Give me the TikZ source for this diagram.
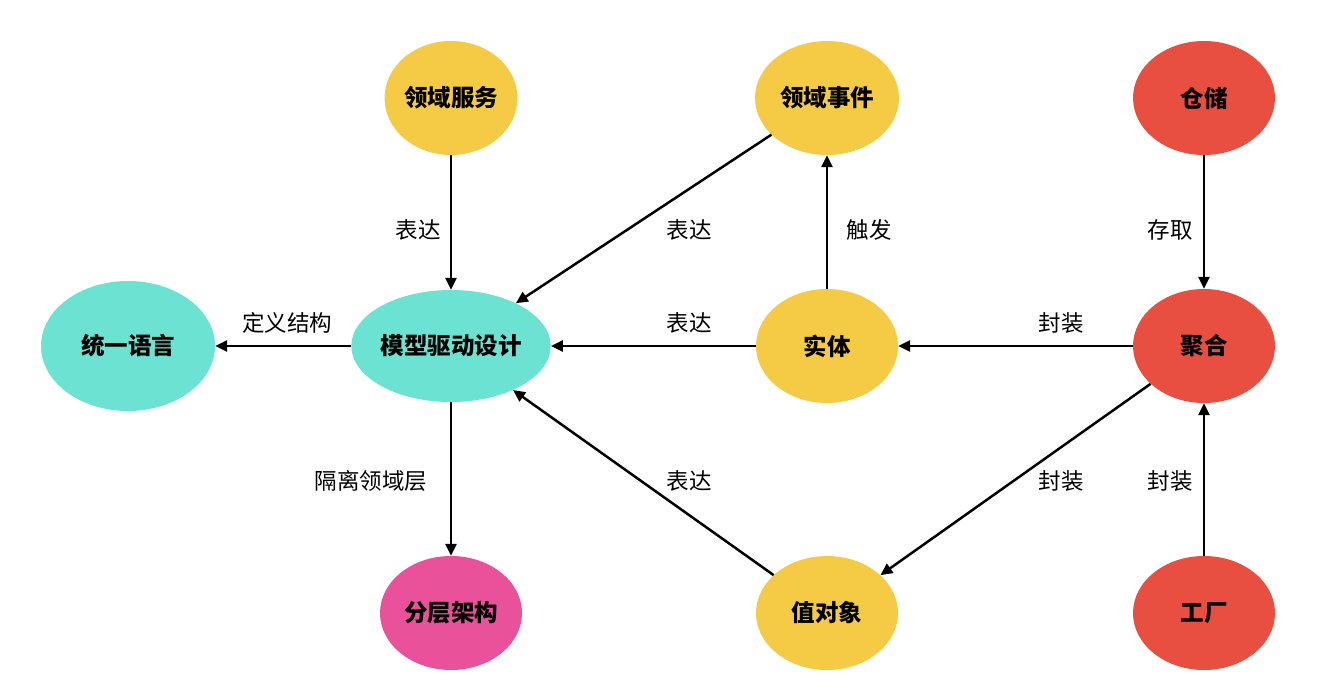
\documentclass[tikz,border=0pt]{standalone}
\usepackage{fontspec}
\setmainfont{Noto Sans CJK SC}
\usetikzlibrary{shapes.geometric,arrows.meta}
\definecolor{cteal}{HTML}{6CE3D2}
\definecolor{cyellow}{HTML}{F5CB45}
\definecolor{cred}{HTML}{E94F40}
\definecolor{cpink}{HTML}{E9519B}
\tikzset{
  blob/.style={ellipse, inner sep=0pt, font=\fontsize{23.5}{27}\selectfont\bfseries},
  lbl/.style={font=\fontsize{22.5}{26}\selectfont, inner sep=0pt},
  arr/.style={line width=2.5pt, -{Triangle[length=12pt,width=11pt]}},
}
\begin{document}
\begin{tikzpicture}[x=1pt,y=-1pt]
\useasboundingbox[fill=white] (0,0) rectangle (1318,699);
% nodes
\node[blob, fill=cyellow, minimum width=132pt, minimum height=114pt] (svc) at (451,98) {领域服务};
\node[blob, fill=cyellow, minimum width=144pt, minimum height=114pt] (evt) at (827,98) {领域事件};
\node[blob, fill=cred, minimum width=142pt, minimum height=114pt] (repo) at (1204,98) {仓储};
\node[blob, fill=cteal, minimum width=174pt, minimum height=130pt] (ul) at (128,346) {统一语言};
\node[blob, fill=cteal, minimum width=196pt, minimum height=112pt] (mdd) at (451,346) {模型驱动设计};
\node[blob, fill=cyellow, minimum width=142pt, minimum height=114pt] (ent) at (827,346) {实体};
\node[blob, fill=cred, minimum width=142pt, minimum height=114pt] (agg) at (1204,346) {聚合};
\node[blob, fill=cpink, minimum width=142pt, minimum height=114pt] (lay) at (451,613) {分层架构};
\node[blob, fill=cyellow, minimum width=142pt, minimum height=114pt] (vo) at (827,613) {值对象};
\node[blob, fill=cred, minimum width=142pt, minimum height=114pt] (fac) at (1204,613) {工厂};
% connectors
\draw[arr] (svc) -- (mdd);
\draw[arr] (evt) -- (mdd);
\draw[arr] (ent) -- (evt);
\draw[arr] (ent) -- (mdd);
\draw[arr] (mdd) -- (ul);
\draw[arr] (mdd) -- (lay);
\draw[arr] (vo) -- (mdd);
\draw[arr] (repo) -- (agg);
\draw[arr] (agg) -- (ent);
\draw[arr] (agg) -- (vo);
\draw[arr] (fac) -- (agg);
% labels
\node[lbl] (l1) at (418,230) {表达};
\node[lbl] (l2) at (689,230) {表达};
\node[lbl] (l3) at (869,230) {触发};
\node[lbl] (l4) at (689,323) {表达};
\node[lbl] (l5) at (287,323) {定义结构};
\node[lbl] (l6) at (371,481) {隔离领域层};
\node[lbl] (l7) at (689,481) {表达};
\node[lbl] (l8) at (1170,230) {存取};
\node[lbl] (l9) at (1061,323) {封装};
\node[lbl] (l10) at (1061,481) {封装};
\node[lbl] (l11) at (1170,481) {封装};
\end{tikzpicture}
\end{document}
